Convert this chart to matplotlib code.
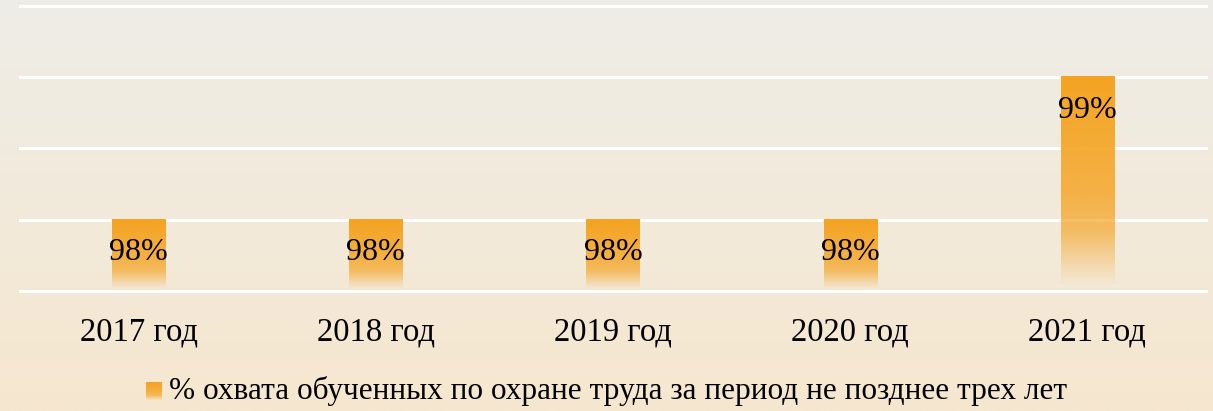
import numpy as np
import matplotlib.pyplot as plt
from matplotlib.colors import to_rgb
from matplotlib.patches import Patch, Rectangle
from matplotlib.legend_handler import HandlerBase

years = ['2017 год', '2018 год', '2019 год', '2020 год', '2021 год']
coverage = [98, 98, 98, 98, 99]
value_labels = ['98%', '98%', '98%', '98%', '99%']
series_name = '% охвата обученных по охране труда за период не позднее трех лет'

plt.rcParams['font.family'] = ['Liberation Serif', 'DejaVu Serif']

bar_color = np.array(to_rgb('#F5A320'))
bg_top = np.array([238, 237, 231]) / 255
bg_bot = np.array([246, 231, 207]) / 255

# alpha profile of the bar fill, top -> bottom
stops = [0, 0.55, 0.72, 0.97, 1.0]
alphas = [1.0, 0.8, 0.65, 0.0, 0.0]


class GradientHandler(HandlerBase):
    def create_artists(self, legend, orig, xd, yd, w, h, fontsize, trans):
        n = 20
        out = []
        for k in range(n):
            a = np.interp((k + 0.5) / n, stops, alphas)
            r = Rectangle((xd, yd + h - (k + 1) * h / n), w, h / n,
                          facecolor=bar_color, alpha=a, edgecolor='none',
                          transform=trans)
            out.append(r)
        return out


fig = plt.figure(figsize=(12.13, 4.11), dpi=100)

# background gradient over the whole figure
bg = fig.add_axes([0, 0, 1, 1], zorder=0)
t = np.linspace(0, 1, 256)[:, None, None]
grad = bg_top * (1 - t) + bg_bot * t
bg.imshow(np.repeat(grad, 2, axis=1), aspect='auto', extent=[0, 1, 0, 1])
bg.axis('off')

ax = fig.add_axes([0.0165, 0.292, 0.9777, 0.6946], zorder=1)
ax.set_facecolor('none')

x = np.arange(len(years))
bars = ax.bar(x, coverage, width=0.224, color='none', edgecolor='none', zorder=2)

ax.set_ylim(97.5, 99.5)
ax.set_xlim(-0.5, len(years) - 0.5)
ax.set_yticks([97.5, 98.0, 98.5, 99.0, 99.5])
ax.grid(axis='y', color='white', linewidth=2.2, zorder=1)
ax.set_axisbelow(True)
for gl in ax.get_ygridlines():
    gl.set_clip_on(False)

# bar gradient: solid orange at top, fading out at the bottom
s = np.linspace(0, 1, 256)
img = np.zeros((256, 2, 4))
img[:, :, :3] = bar_color
img[:, :, 3] = np.interp(s, stops, alphas)[:, None]
for b in bars:
    x0, w, h = b.get_x(), b.get_width(), b.get_height()
    ax.imshow(img, aspect='auto', extent=[x0, x0 + w, 97.5, h], zorder=2,
              interpolation='bilinear')

for xi, v, lab in zip(x, coverage, value_labels):
    ax.annotate(lab, (xi, v), xytext=(0, -24), textcoords='offset points',
                ha='center', va='center', fontsize=23, color='black', zorder=3)
ax.set_xlim(-0.5, len(years) - 0.5)
ax.set_ylim(97.5, 99.5)

ax.set_xticks(x)
ax.set_xticklabels(years, fontsize=23.5)
ax.tick_params(axis='x', length=0, pad=19)
ax.tick_params(axis='y', left=False, labelleft=False)
for sp in ax.spines.values():
    sp.set_visible(False)

handle = Patch(facecolor=bar_color, edgecolor='none')
fig.legend([handle], [series_name], loc='center', bbox_to_anchor=(0.5, 0.048),
           frameon=False, fontsize=22.5, handlelength=0.52, handleheight=0.55,
           handletextpad=0.22, handler_map={Patch: GradientHandler()})

fig.savefig('out.png', dpi=100)
